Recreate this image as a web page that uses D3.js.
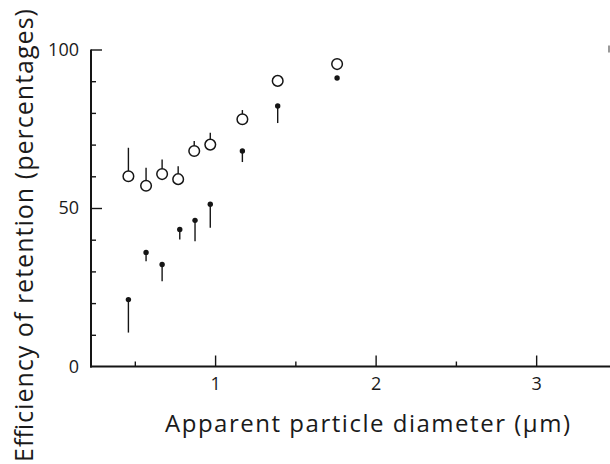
<!DOCTYPE html>
<html>
<head>
<meta charset="utf-8">
<script src="https://cdn.jsdelivr.net/npm/d3@7/dist/d3.min.js"></script>
<style>
  html, body { margin: 0; padding: 0; background: #fff; }
  svg { display: block; }
  text { font-family: "Open Sans", "DejaVu Sans", sans-serif; font-weight: 400; fill: #1a1a1a; }
</style>
</head>
<body>
<svg id="chart" width="610" height="464"></svg>
<script>
// ---- data ----
const openDiameters   = [0.46, 0.57, 0.67, 0.77, 0.87, 0.97, 1.17, 1.39, 1.76];
const openValues      = [60.0, 57.0, 60.7, 59.1, 68.0, 70.0, 78.0, 90.1, 95.4];
const openBarTop      = [69.0, 62.7, 65.3, 63.2, 71.1, 73.7, 80.9, null, null];
const filledDiameters = [0.46, 0.57, 0.67, 0.78, 0.875, 0.97, 1.17, 1.39, 1.76];
const filledValues    = [21.1, 36.0, 32.2, 43.2, 46.1, 51.2, 68.0, 82.2, 91.0];
const filledBarBottom = [10.7, 33.2, 26.9, 40.1, 39.5, 43.8, 64.5, 76.8, null];
const xMajorTicks = [1, 2, 3];
const xMinorTicks = [0.5, 1.5, 2.5, 3.5];
const yMajorTicks = [0, 50, 100];
const yMinorTicks = [10, 20, 30, 40, 60, 70, 80, 90];
const xTitle = "Apparent particle diameter (\u00b5m)";
const yTitle = "Efficiency of retention (percentages)";

const svg = d3.select("#chart");
const x = d3.scaleLinear().domain([0.227, 3.46]).range([91, 610]);
const y = d3.scaleLinear().domain([0, 100]).range([366.5, 49.5]);
const ink = "#151515";
const fontStack = '"Open Sans", "DejaVu Sans", sans-serif';

// x axis: minor + major ticks pointing inward (up)
const gx = svg.append("g").attr("transform", `translate(0,${y(0)})`);
gx.append("g").call(d3.axisBottom(x).tickValues(xMinorTicks).tickSizeInner(-5).tickSizeOuter(0).tickFormat(""))
  .call(g => g.select(".domain").remove());
gx.append("g").call(d3.axisBottom(x).tickValues(xMajorTicks).tickSizeInner(-11).tickSizeOuter(0).tickPadding(11).tickFormat(d3.format("d")))
  .call(g => g.select(".domain").remove());
gx.append("line").attr("x1", x.range()[0] - 1).attr("x2", x.range()[1]).attr("y1", 0).attr("y2", 0)
  .attr("stroke", ink).attr("stroke-width", 2);
gx.selectAll(".tick line").attr("stroke", ink).attr("stroke-width", 1.4);
gx.selectAll(".tick text").attr("font-size", 18).style("font-family", fontStack).style("font-weight", 400).attr("fill", ink);

// y axis: minor + major ticks pointing inward (right)
const gy = svg.append("g").attr("transform", `translate(${x.range()[0]},0)`);
gy.append("g").call(d3.axisLeft(y).tickValues(yMinorTicks).tickSizeInner(-5).tickSizeOuter(0).tickFormat(""))
  .call(g => g.select(".domain").remove());
gy.append("g").call(d3.axisLeft(y).tickValues(yMajorTicks).tickSizeInner(-11).tickSizeOuter(0).tickPadding(12).tickFormat(d3.format("d")))
  .call(g => g.select(".domain").remove())
  .call(g => g.selectAll(".tick").filter(d => d === 0).select("line").remove());
gy.append("line").attr("x1", 0).attr("x2", 0).attr("y1", y(100)).attr("y2", y(0) + 1)
  .attr("stroke", ink).attr("stroke-width", 2);
gy.selectAll(".tick line").attr("stroke", ink).attr("stroke-width", 1.4);
gy.selectAll(".tick text").attr("font-size", 18).style("font-family", fontStack).style("font-weight", 400).attr("fill", ink);

// small mark at top right edge (right frame tick at 100)
svg.append("line").attr("x1", 609).attr("x2", 609).attr("y1", y(100) - 4).attr("y2", y(100) + 3)
  .attr("stroke", "#777").attr("stroke-width", 1.5);

// open circles with upward error bars
const openData = openDiameters.map((d, i) => ({ d, v: openValues[i], top: openBarTop[i] }));
const rOpen = 5.3;
svg.append("g").selectAll("line").data(openData.filter(p => p.top != null)).join("line")
  .attr("x1", p => x(p.d)).attr("x2", p => x(p.d))
  .attr("y1", p => y(p.v) - rOpen).attr("y2", p => y(p.top))
  .attr("stroke", ink).attr("stroke-width", 1.4);
svg.append("g").selectAll("circle").data(openData).join("circle")
  .attr("cx", p => x(p.d)).attr("cy", p => y(p.v)).attr("r", rOpen)
  .attr("fill", "#fff").attr("stroke", ink).attr("stroke-width", 1.5);

// filled dots with downward error bars
const filledData = filledDiameters.map((d, i) => ({ d, v: filledValues[i], bot: filledBarBottom[i] }));
svg.append("g").selectAll("line").data(filledData.filter(p => p.bot != null)).join("line")
  .attr("x1", p => x(p.d)).attr("x2", p => x(p.d))
  .attr("y1", p => y(p.v)).attr("y2", p => y(p.bot))
  .attr("stroke", ink).attr("stroke-width", 1.4);
svg.append("g").selectAll("circle").data(filledData).join("circle")
  .attr("cx", p => x(p.d)).attr("cy", p => y(p.v)).attr("r", 2.7)
  .attr("fill", ink);

// axis titles
svg.append("text").attr("x", 165).attr("y", 432)
  .attr("font-size", 24).style("font-weight", 400).attr("fill", ink)
  .attr("textLength", 405).attr("lengthAdjust", "spacing")
  .text(xTitle);
svg.append("text").attr("transform", "translate(33,462) rotate(-90)")
  .attr("font-size", 25).style("font-weight", 400).attr("fill", ink)
  .attr("textLength", 453).attr("lengthAdjust", "spacing")
  .text(yTitle);
</script>
</body>
</html>
